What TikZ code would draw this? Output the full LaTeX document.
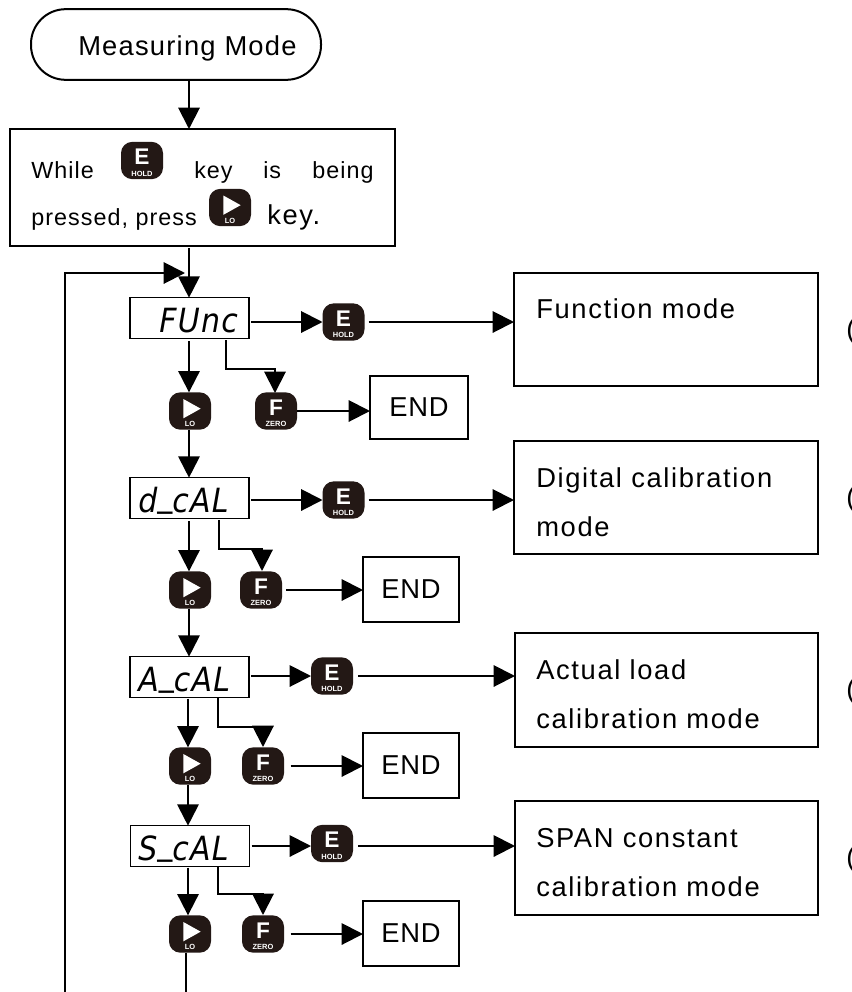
\documentclass[tikz,border=0pt]{standalone}
\usepackage{fontspec}
\setmainfont{Liberation Sans}[LetterSpace=3]
\newfontfamily\boxfont{Liberation Sans}[LetterSpace=6]
\newfontfamily\termfont{Liberation Sans}[LetterSpace=4.5]
\newfontfamily\promptfont{Liberation Sans}[LetterSpace=4.5]
\newfontfamily\segfont{DejaVu Sans}[FakeStretch=0.9,LetterSpace=4]
\newfontfamily\keyfont{Liberation Sans Bold}
\usetikzlibrary{arrows.meta}
\definecolor{keydark}{HTML}{231815}
\tikzset{
  x=0.75pt,y=-0.75pt,
  line/.style={line width=1.5pt,black},
  flow/.style={line,-{Triangle[length=16pt,width=16pt]}},
  box/.style={draw,line width=1.5pt,outer sep=0pt,inner sep=0pt},
  disp/.style={box,minimum width=89.25pt,minimum height=30.5pt,line width=1.2pt},
  key/.style={fill=keydark,draw=none,rounded corners=8.5pt,minimum width=31.5pt,minimum height=28pt,inner sep=0pt,outer sep=0pt},
  keyglyph/.style={text=white,font=\keyfont\fontsize{17}{17}\selectfont,inner sep=0pt},
  keysub/.style={text=white,font=\keyfont\fontsize{5.6}{6}\selectfont,inner sep=0pt},
  big/.style={font=\boxfont\fontsize{20.5}{24}\selectfont,anchor=base west,inner sep=0pt},
  endtext/.style={font=\fontsize{20.5}{24}\selectfont,inner sep=0pt},
  small/.style={font=\promptfont\fontsize{17.5}{20}\selectfont,anchor=base west,inner sep=0pt},
  segtext/.style={font=\segfont\itshape\fontsize{25}{28}\selectfont,anchor=base west,inner sep=0pt},
}
\newcommand\segbar{\raisebox{4.5pt}{\_}}
\newcommand\keyE[3]{\node[key] (#1) at (#2,#3) {};
  \node[keyglyph] at ([yshift=2.5pt]#1.center) {E};
  \node[keysub] at ([yshift=-10pt]#1.center) {HOLD};}
\newcommand\keyF[3]{\node[key] (#1) at (#2,#3) {};
  \node[keyglyph] at ([yshift=2.5pt]#1.center) {F};
  \node[keysub] at ([yshift=-10pt]#1.center) {ZERO};}
\newcommand\keyL[3]{\node[key] (#1) at (#2,#3) {};
  \fill[white] ([xshift=-5pt,yshift=9pt]#1.center) -- ([xshift=8pt,yshift=1.75pt]#1.center) -- ([xshift=-5pt,yshift=-5.5pt]#1.center) -- cycle;
  \node[keysub] at ([yshift=-10pt]#1.center) {LO};}
\begin{document}
\begin{tikzpicture}
\useasboundingbox (0,0) rectangle (851,992);
\fill[white] (0,0) rectangle (851,992);
% top
\node[box,rounded corners=26pt,minimum width=217.5pt,minimum height=53pt] (term) at (176,44.5) {};
\node[big,font=\termfont\fontsize{20.5}{24}\selectfont] (termtext) at (78,55) {Measuring Mode};
\node[box,minimum width=288.75pt,minimum height=87.75pt] (prompt) at (202.5,187.5) {};
\node[small] at (31,178) {While};
\keyE{pe}{142}{160.5}
\node[small] at (194,178) {key};
\node[small] at (263,178) {is};
\node[small] at (312,178) {being};
\node[small] at (31,225) {pressed, press};
\keyL{pl}{230}{207.5}
\node[big] at (267,224) {key.};
\coordinate (axis) at (189,0);
\draw[flow] (axis |- term.south) -- (axis |- prompt.north);
% displays
\node[disp] (func) at (189.5,318) {};
\node[segtext] at (159,332) {FUnc};
\node[disp] (dcal) at (189.5,498) {};
\node[segtext] at (138,512) {d\segbar cAL};
\node[disp] (acal) at (189.5,677) {};
\node[segtext] at (138,691) {A\segbar cAL};
\node[disp] (scal) at (190,846) {};
\node[segtext] at (138,860) {S\segbar cAL};
\draw[flow] ([yshift=-1.5pt]axis |- prompt.south) -- (axis |- func.north);
% loop
\coordinate (loopa) at (65,992);
\coordinate (loopb) at (185,273);
\draw[flow] (loopa) |- (loopb);
% function row
\keyE{ef}{343.5}{322}
\node[box,minimum width=228pt,minimum height=84.75pt] (mf) at (666,329.5) {};
\node[big] at (536,318) {Function mode};
\keyL{lf}{190}{411}
\keyF{ff}{276}{411}
\node[box,minimum width=73.5pt,minimum height=47.25pt] (endf) at (419,407.5) {};
\node[endtext] at (endf) {END};
\draw[flow] ([xshift=1.5pt]func.east |- ef.west) -- (ef.west);
\draw[flow] ([xshift=3pt]ef.east) -- (ef.east -| mf.west);
\draw[flow] ([yshift=-2pt]axis |- func.south) -- (axis |- lf.north);
\coordinate (bf) at (226,340);
\draw[flow] (bf) |- (275,369) -- (275 ,393);
\draw[flow] (ff.east) -- (ff.east -| endf.west);
\draw[flow] (axis |- lf.south) -- (axis |- dcal.north);
% digital row
\keyE{ed}{343.5}{500}
\node[box,minimum width=228pt,minimum height=84.75pt] (md) at (666,497.5) {};
\node[big] at (536,487) {Digital calibration};
\node[big] at (536,536) {mode};
\keyL{ld}{190}{590}
\keyF{fd}{261}{590}
\node[box,minimum width=72pt,minimum height=48.75pt] (endd) at (411,589.5) {};
\node[endtext] at (endd) {END};
\draw[flow] ([xshift=1.5pt]dcal.east |- ed.west) -- (ed.west);
\draw[flow] ([xshift=3pt]ed.east) -- (ed.east -| md.west);
\draw[flow] ([yshift=-2pt]axis |- dcal.south) -- (axis |- ld.north);
\coordinate (bd) at (219,520);
\draw[flow] (bd) |- (262,549) -- (262,571);
\draw[flow] ([xshift=3pt]fd.east) -- (fd.east -| endd.west);
\draw[flow] (axis |- ld.south) -- (axis |- acal.north);
% actual row
\keyE{ea}{332}{676}
\node[box,minimum width=227.25pt,minimum height=85.5pt] (ma) at (666.5,690) {};
\node[big] at (536,679) {Actual load};
\node[big] at (536,728) {calibration mode};
\keyL{la}{190}{766}
\keyF{fa}{263}{766}
\node[box,minimum width=72pt,minimum height=48.75pt] (enda) at (411,765.5) {};
\node[endtext] at (enda) {END};
\draw[flow] ([xshift=1.5pt]acal.east |- ea.west) -- (ea.west);
\draw[flow] ([xshift=4pt]ea.east) -- (ea.east -| ma.west);
\coordinate (axisb) at (188,0);
\draw[flow] ([yshift=-1pt]axisb |- acal.south) -- (axisb |- la.north);
\coordinate (ba) at (218,698);
\draw[flow] (ba) |- (263,727) -- (263,747);
\draw[flow] ([xshift=5pt]fa.east) -- (fa.east -| enda.west);
\draw[flow] (axisb |- la.south) -- (axisb |- scal.north);
% span row
\keyE{es}{332}{843.5}
\node[box,minimum width=227.25pt,minimum height=85.5pt] (ms) at (666.5,858) {};
\node[big] at (536,847) {SPAN constant};
\node[big] at (536,896) {calibration mode};
\keyL{ls}{190}{934}
\keyF{fs}{263}{934}
\node[box,minimum width=72pt,minimum height=48.75pt] (ends) at (411,933.5) {};
\node[endtext] at (ends) {END};
\draw[flow] ([xshift=1.5pt]scal.east) -- (scal.east -| es.west);
\draw[flow] ([xshift=4pt]es.east |- scal.east) -- (scal.east -| ms.west);
\draw[flow] ([yshift=-1pt]axisb |- scal.south) -- (axisb |- ls.north);
\coordinate (bs) at (218,866);
\draw[flow] (bs) |- (263,894) -- (263,915);
\draw[flow] ([xshift=5pt]fs.east) -- (fs.east -| ends.west);
\coordinate (lsout) at (186,992);
\draw[line] (lsout |- ls.south) -- (lsout);
% clipped parentheses at the right edge
\foreach \py in {338,506,698,866}{\node[big] at (846,\py) {(};}
\end{tikzpicture}
\end{document}
